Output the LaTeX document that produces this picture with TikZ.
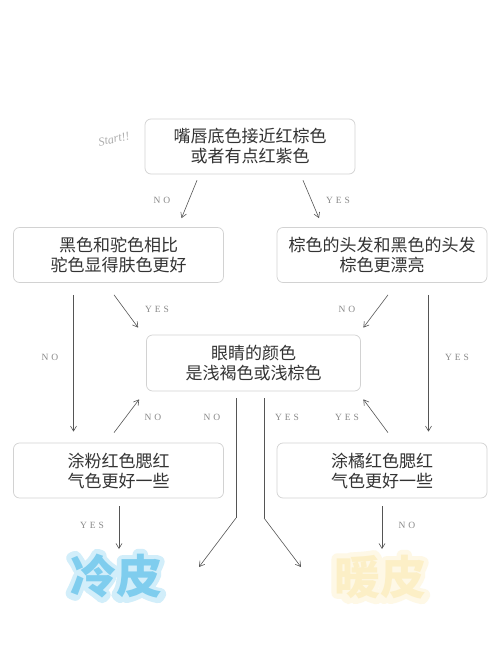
\documentclass[tikz,border=0pt]{standalone}
\usepackage{fontspec}
\setmainfont{Liberation Serif}
\newfontfamily\cjk{Noto Sans CJK SC}
\newfontfamily\cjkrim{Noto Sans CJK SC}[FakeBold=26]
\usetikzlibrary{arrows.meta}
\definecolor{boxline}{HTML}{D2D2D2}
\definecolor{textc}{HTML}{333333}
\definecolor{arrc}{HTML}{555555}
\definecolor{lblc}{HTML}{8A8A8A}
\definecolor{coolfill}{HTML}{7FCDEE}
\definecolor{coolrim}{HTML}{D2EEFA}
\definecolor{warmfill}{HTML}{FCEFC6}
\definecolor{warmrim}{HTML}{FEF8E6}
\tikzset{
  qbox/.style={draw=boxline, rounded corners=6pt, minimum width=210pt, minimum height=55pt,
    align=center, text=textc, line width=0.7pt, inner sep=0pt,
    font=\cjk\fontsize{17}{20}\selectfont},
  lbl/.style={text=lblc, inner sep=0pt, font=\fontsize{9.5}{10}\selectfont\addfontfeatures{LetterSpace=30}},
  arr/.style={draw=arrc, line width=0.6pt, -{Straight Barb[length=5pt,width=6pt]}},
  ln/.style={draw=arrc, line width=0.6pt},
  big/.style={inner sep=0pt, font=\cjk\bfseries\fontsize{46}{50}\selectfont},
  bigrim/.style={inner sep=0pt, font=\cjkrim\fontsize{46}{50}\selectfont}
}
\newcommand{\roundjoin}{\special{pdf:literal 1 j 1 J}}
\begin{document}
\begin{tikzpicture}[x=1pt,y=-1pt]
\useasboundingbox (0,0) rectangle (500,658);
\fill[white] (0,0) rectangle (500,658);
\node[qbox] (top) at (250,146.5) {嘴唇底色接近红棕色\\或者有点红紫色};
\node[qbox] (l2) at (118.5,255) {黑色和驼色相比\\驼色显得肤色更好};
\node[qbox] (r2) at (382,255) {棕色的头发和黑色的头发\\棕色更漂亮};
\node[qbox, minimum width=214pt, minimum height=56pt] (mid) at (253.5,363) {眼睛的颜色\\是浅褐色或浅棕色};
\node[qbox] (l3) at (118.5,470.5) {涂粉红色腮红\\气色更好一些};
\node[qbox] (r3) at (382,470.5) {涂橘红色腮红\\气色更好一些};

\node[bigrim, text=coolrim] (coolrim) at (116,576) {\roundjoin 冷皮};
\node[big, text=coolfill] (cool) at (116,576) {冷皮};
\node[bigrim, text=warmrim] (warmrim) at (380,577) {\roundjoin 暖皮};
\node[big, text=warmfill] (warm) at (380,577) {暖皮};

\node[text=lblc!70, rotate=12, inner sep=0pt, font=\itshape\fontsize{12}{12}\selectfont] (start) at (114,139) {Start!!};

% top -> l2 / r2
\draw[arr] ([shift={(-53,6)}]top.south) -- ([shift={(63,-9)}]l2.north);
\draw[arr] ([shift={(53,6)}]top.south) -- ([shift={(-63,-9)}]r2.north);
\node[lbl] (t1) at (162,200) {NO};
\node[lbl] (t2) at (338,200) {YES};

% l2 -> mid, r2 -> mid
\draw[arr] ([shift={(-4.5,12)}]l2.south) -- ([shift={(-8,-7)}]mid.north west);
\draw[arr] ([shift={(6,12)}]r2.south) -- ([shift={(2.5,-7)}]mid.north east);
\node[lbl] (t3) at (157,309) {YES};
\node[lbl] (t4) at (347,309) {NO};

% verticals
\draw[arr] ([shift={(-45,12)}]l2.south) -- ([shift={(-45,-11)}]l3.north);
\draw[arr] ([shift={(46.5,12)}]r2.south) -- ([shift={(46.5,-11)}]r3.north);
\node[lbl] (t5) at (50,357) {NO};
\node[lbl] (t6) at (457,357) {YES};

% l3 -> mid, r3 -> mid
\draw[arr] ([shift={(-4.5,-10)}]l3.north) -- ([shift={(-7,8)}]mid.south west);
\draw[arr] ([shift={(6,-10)}]r3.north) -- ([shift={(2.5,8)}]mid.south east);
\node[lbl] (t7) at (153,417) {NO};
\node[lbl] (t8) at (347,417) {YES};

% mid down
\coordinate (ml) at (236,518);
\coordinate (mr) at (264,518);
\coordinate (el) at (199,567);
\coordinate (er) at (301,567);
\draw[ln] ([shift={(-17.5,7)}]mid.south) -- (ml);
\draw[arr] (ml) -- (el);
\draw[ln] ([shift={(10.5,7)}]mid.south) -- (mr);
\draw[arr] (mr) -- (er);
\node[lbl] (t9) at (212,417) {NO};
\node[lbl] (t10) at (287,417) {YES};

% l3 / r3 down
\coordinate (cin) at (119,549);
\coordinate (win) at (382,549);
\draw[arr] ([shift={(0.5,8)}]l3.south) -- (cin);
\draw[arr] ([shift={(0,8)}]r3.south) -- (win);
\node[lbl] (t11) at (92,525) {YES};
\node[lbl] (t12) at (407,525) {NO};
\end{tikzpicture}
\end{document}
